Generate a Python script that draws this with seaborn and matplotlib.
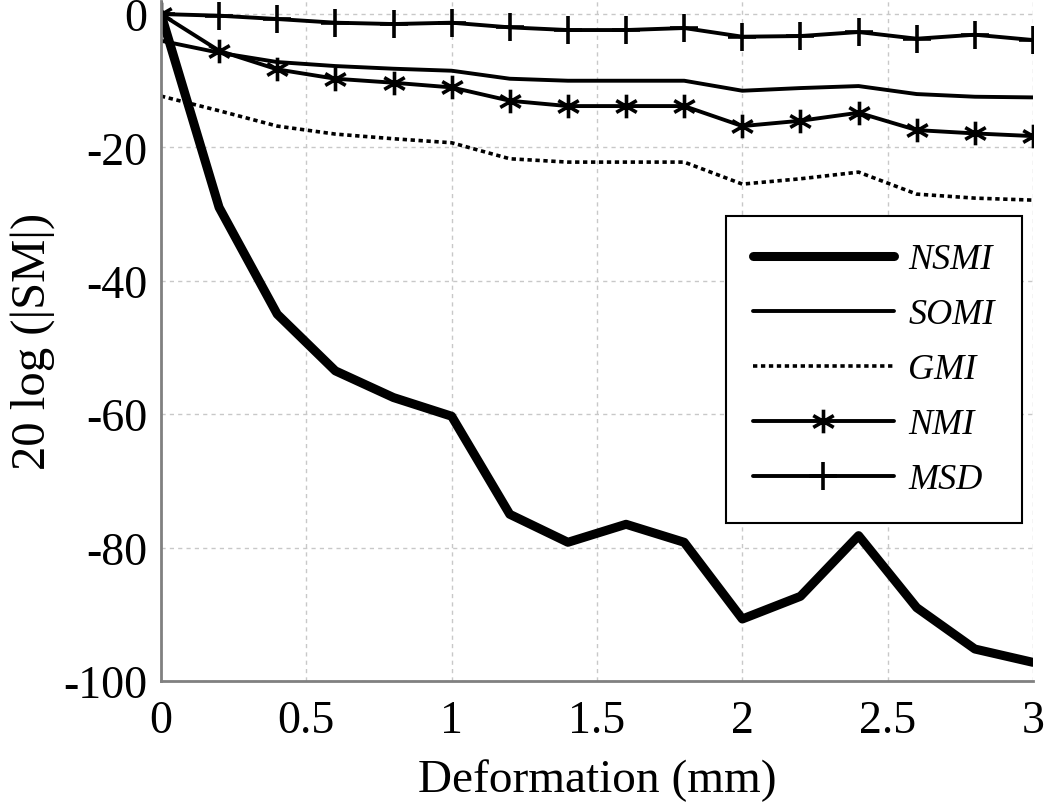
import matplotlib
matplotlib.use("Agg")
import matplotlib.pyplot as plt
from matplotlib.path import Path
import seaborn as sns
import pandas as pd

# deformation steps (mm)
deformation = [0.0, 0.2, 0.4, 0.6, 0.8, 1.0, 1.2, 1.4, 1.6, 1.8, 2.0, 2.2, 2.4, 2.6, 2.8, 3.0]

# 20 log(|SM|) per similarity measure
nsmi = [0.0, -29.0, -45.0, -53.5, -57.5, -60.3, -75.0, -79.2, -76.5, -79.2, -90.7, -87.3, -78.2, -89.0, -95.2, -97.2]
somi = [-4.0, -5.8, -7.2, -7.8, -8.2, -8.5, -9.7, -10.0, -10.0, -10.0, -11.5, -11.1, -10.8, -12.0, -12.4, -12.5]
gmi = [-12.3, -14.5, -16.8, -18.0, -18.7, -19.3, -21.7, -22.2, -22.2, -22.2, -25.5, -24.7, -23.7, -27.0, -27.6, -27.9]
nmi = [0.0, -5.5, -8.3, -9.7, -10.3, -11.0, -13.0, -13.8, -13.8, -13.8, -16.8, -16.0, -14.8, -17.4, -17.9, -18.3]
msd = [0.0, -0.25, -0.75, -1.3, -1.5, -1.3, -2.0, -2.4, -2.4, -2.1, -3.4, -3.3, -2.7, -3.7, -3.1, -3.9]

x_ticks = [0, 0.5, 1, 1.5, 2, 2.5, 3]
x_tick_labels = ["0", "0.5", "1", "1.5", "2", "2.5", "3"]
y_ticks = [-100, -80, -60, -40, -20, 0]

df = pd.DataFrame({"x": deformation, "NSMI": nsmi, "SOMI": somi,
                   "GMI": gmi, "NMI": nmi, "MSD": msd})

sns.set_style("white")
plt.rcParams["font.family"] = ["Liberation Serif", "DejaVu Serif"]
plt.rcParams["axes.unicode_minus"] = False
plt.rcParams["axes.labelcolor"] = "black"

# asterisk marker made of three strokes (like MATLAB's '*')
s3 = 0.866
asterisk = Path([(0, -1), (0, 1), (-s3, -0.5), (s3, 0.5), (-s3, 0.5), (s3, -0.5)],
                [Path.MOVETO, Path.LINETO, Path.MOVETO, Path.LINETO, Path.MOVETO, Path.LINETO])

fig = plt.figure(figsize=(10.5, 8.04), dpi=100)
ax = fig.add_axes([0.1533, 0.1517, 0.8305, 0.8462])

sns.lineplot(data=df, x="x", y="NSMI", ax=ax, color="black", linewidth=6.5, label="NSMI")
sns.lineplot(data=df, x="x", y="SOMI", ax=ax, color="black", linewidth=2.8, label="SOMI")
sns.lineplot(data=df, x="x", y="GMI", ax=ax, color="black", linewidth=2.6,
             linestyle=(0, (1.2, 1.0)), label="GMI")
sns.lineplot(data=df, x="x", y="NMI", ax=ax, color="black", linewidth=2.8, label="NMI",
             marker=asterisk, markersize=17, markeredgewidth=2.6,
             markerfacecolor="none", markeredgecolor="black")
sns.lineplot(data=df, x="x", y="MSD", ax=ax, color="black", linewidth=2.8, label="MSD",
             marker="+", markersize=20, markeredgewidth=2.6, markeredgecolor="black")

ax.set_xlim(0, 3)
ax.set_ylim(-100, 2)
ax.set_xticks(x_ticks)
ax.set_xticklabels(x_tick_labels)
ax.set_yticks(y_ticks)

ax.grid(True, color="#c8c8c8", linestyle=(0, (3, 3)), linewidth=1.0)
ax.set_axisbelow(True)

for side in ["top", "right"]:
    ax.spines[side].set_visible(False)
for side in ["left", "bottom"]:
    ax.spines[side].set_color("#808080")
    ax.spines[side].set_linewidth(2.0)

ax.tick_params(axis="both", direction="in", length=6, width=1.5, color="#808080",
               labelsize=33, labelcolor="black")
ax.tick_params(axis="y", pad=10)
ax.tick_params(axis="x", pad=13)

ax.set_xlabel("Deformation (mm)", fontsize=34, labelpad=12, color="black")
ax.set_ylabel("20 log (|SM|)", fontsize=35, labelpad=6, color="black")

leg = ax.legend(loc="upper right", bbox_to_anchor=(0.987, 0.6835), fontsize=26,
                frameon=True, fancybox=False, edgecolor="black", framealpha=1,
                handlelength=3.9, handletextpad=0.4, labelspacing=0.6,
                borderpad=0.75, borderaxespad=0)
leg.get_frame().set_linewidth(1.5)
for t in leg.get_texts():
    t.set_fontstyle("italic")
    t.set_color("black")

fig.savefig("out.png", dpi=100)
